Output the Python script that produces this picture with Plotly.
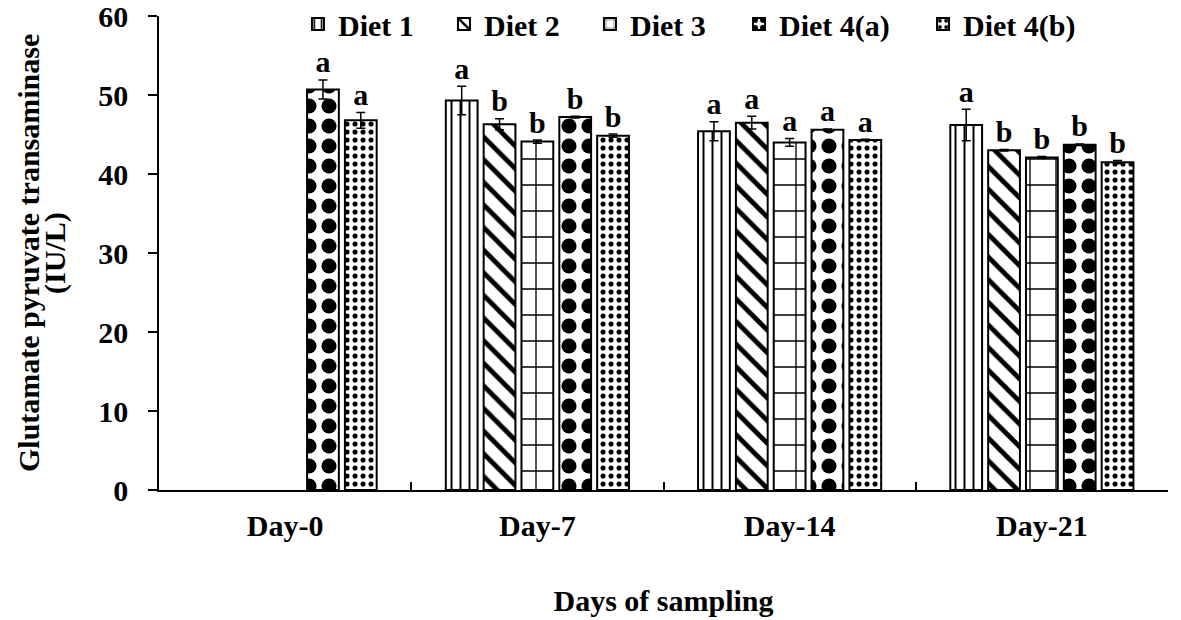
import plotly.graph_objects as go


DAYS = ["Day-0", "Day-7", "Day-14", "Day-21"]
DIETS = ["Diet 1", "Diet 2", "Diet 3", "Diet 4(a)", "Diet 4(b)"]

diet1 = [None, 49.3, 45.4, 46.2]
diet2 = [None, 46.3, 46.5, 43.0]
diet3 = [None, 44.1, 44.0, 42.1]
diet4a = [50.7, 47.2, 45.6, 43.7]
diet4b = [46.8, 44.85, 44.3, 41.5]

diet1_err = [None, 1.8, 1.2, 2.0]
diet2_err = [None, 0.7, 0.8, 0.1]
diet3_err = [None, 0.2, 0.5, 0.1]
diet4a_err = [1.2, 0.1, 0.1, 0.1]
diet4b_err = [1.0, 0.2, 0.1, 0.2]

diet1_sig = [None, "a", "a", "a"]
diet2_sig = [None, "b", "a", "b"]
diet3_sig = [None, "b", "a", "b"]
diet4a_sig = ["a", "b", "a", "b"]
diet4b_sig = ["a", "b", "a", "b"]

FONT = "Liberation Serif, Times New Roman, serif"
FS = 30

# pattern per diet: (shape, size, solidity)
PATTERNS = [
    ("|", 9, 0.22),
    ("\\", 16, 0.3),
    ("+", 26, 0.1),
    (".", 20, 0.45),
    (".", 8, 0.32),
]

values = [diet1, diet2, diet3, diet4a, diet4b]
errors = [diet1_err, diet2_err, diet3_err, diet4a_err, diet4b_err]
sigs = [diet1_sig, diet2_sig, diet3_sig, diet4a_sig, diet4b_sig]

fig = go.Figure()

for i, name in enumerate(DIETS):
    shape, size, solidity = PATTERNS[i]
    fig.add_trace(go.Bar(
        x=DAYS, y=values[i], name=name,
        offsetgroup=str(i),
        # two legend boxes so the spacing can follow the original
        legend="legend2" if i >= 3 else "legend",
        marker=dict(
            color="white",
            line=dict(color="black", width=2),
            pattern=dict(shape=shape, size=size, solidity=solidity,
                         fgcolor="black", bgcolor="white", fillmode="replace"),
        ),
        error_y=dict(type="data", array=errors[i], color="black",
                     thickness=1.5, width=4.5),
    ))

# significance letters above the error bars
for i, name in enumerate(DIETS):
    tops = [None if v is None else v + e for v, e in zip(values[i], errors[i])]
    fig.add_trace(go.Scatter(
        x=DAYS, y=tops, text=sigs[i], mode="text",
        offsetgroup=str(i), textposition="top center",
        textfont=dict(family=FONT, size=FS, color="black", weight="bold"),
        showlegend=False, hoverinfo="skip",
    ))

# page body adds 8px margin, so the figure is 8px smaller than the window
fig.update_layout(
    width=1173, height=612,
    margin=dict(l=151, r=13, t=8, b=130, autoexpand=False),
    paper_bgcolor="white", plot_bgcolor="white",
    barmode="group", scattermode="group",
    bargap=0.25, bargroupgap=0.16,
    font=dict(family=FONT, size=FS, color="black", weight="bold"),
    legend=dict(
        orientation="h", xref="container", yref="container",
        x=0.2472, y=0.974, xanchor="left", yanchor="middle",
        entrywidth=101, font=dict(size=FS), bgcolor="rgba(0,0,0,0)",
    ),
    legend2=dict(
        orientation="h", xref="container", yref="container",
        x=0.6232, y=0.974, xanchor="left", yanchor="middle",
        entrywidth=139, font=dict(size=FS), bgcolor="rgba(0,0,0,0)",
    ),
    annotations=[
        dict(text="Glutamate pyruvate transaminase", textangle=-90,
             xref="paper", yref="paper", x=-0.1298, y=0.5,
             xanchor="center", yanchor="middle", showarrow=False,
             font=dict(size=FS)),
        dict(text="(IU/L)", textangle=-90,
             xref="paper", yref="paper", x=-0.1031, y=0.5,
             xanchor="center", yanchor="middle", showarrow=False,
             font=dict(size=FS)),
    ],
)

fig.update_xaxes(
    automargin=False,
    showline=True, linecolor="black", linewidth=1.5,
    ticks="inside", ticklen=8, tickcolor="black", tickwidth=1.5,
    tickson="boundaries", ticklabelstandoff=8,
    tickfont=dict(size=FS), ticklabeloverflow="allow",
    title=dict(text="Days of sampling", font=dict(size=FS), standoff=49),
)
fig.update_yaxes(
    automargin=False,
    range=[0, 60], dtick=10,
    showline=True, linecolor="black", linewidth=1.5,
    ticks="outside", ticklen=9, tickcolor="black", tickwidth=1.5,
    showgrid=False, zeroline=False, ticklabelstandoff=14,
    tickfont=dict(size=FS), ticklabeloverflow="allow",
)

fig.write_html("out.html")
